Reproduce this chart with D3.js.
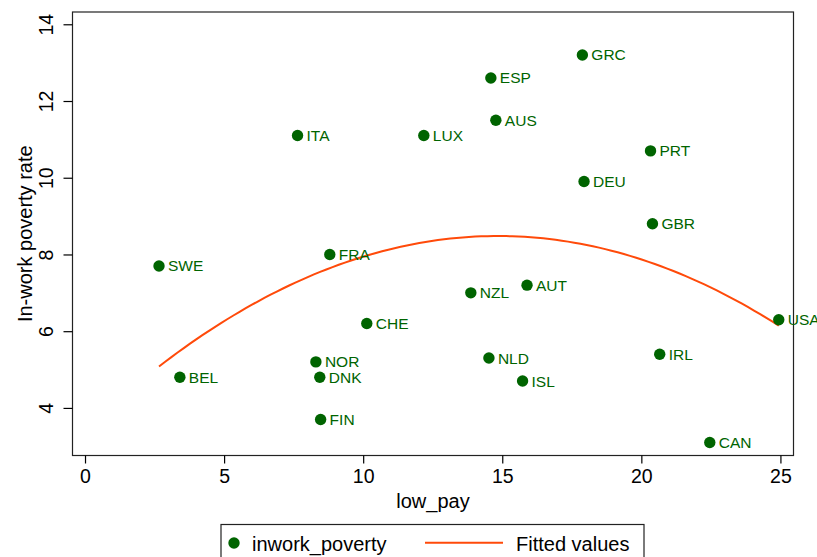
<!DOCTYPE html>
<html>
<head>
<meta charset="utf-8">
<script src="https://cdn.jsdelivr.net/npm/d3@7"></script>
<style>
  html, body { margin: 0; padding: 0; background: #fff; }
  svg { display: block; font-family: "Liberation Sans", Arial, sans-serif; }
</style>
</head>
<body>
<svg id="chart" width="817" height="557"></svg>
<script>
// Country codes, share of low-paid workers and in-work poverty rate
const countries = ["SWE","BEL","ITA","LUX","GRC","ESP","AUS","NOR","DNK","FIN","NZL",
                   "AUT","NLD","ISL","PRT","DEU","GBR","IRL","USA","CAN","FRA","CHE"];
const lowPay = [2.66, 3.41, 7.64, 12.18, 17.88, 14.59, 14.77, 8.30, 8.44, 8.47, 13.87,
                15.89, 14.52, 15.73, 20.33, 17.94, 20.40, 20.66, 24.94, 22.46, 8.80, 10.13];
const inworkPoverty = [7.7, 4.8, 11.1, 11.1, 13.2, 12.6, 11.5, 5.2, 4.8, 3.7, 7.0,
                       7.2, 5.3, 4.7, 10.7, 9.9, 8.8, 5.4, 6.3, 3.1, 8.0, 6.2];
const xTicks = [0, 5, 10, 15, 20, 25];
const yTicks = [4, 6, 8, 10, 12, 14];

const GREEN = "#006400";
const ORANGE = "#ff4a0a";

const svg = d3.select("#chart");
const plot = { left: 72.5, top: 12, right: 793.5, bottom: 455.5 };

const x = d3.scaleLinear().domain([-0.45, 25.47]).range([plot.left, plot.right]);
const y = d3.scaleLinear().domain([2.76, 14.32]).range([plot.bottom, plot.top]);

// Quadratic least-squares fit of in-work poverty on low pay
function quadFit(xs, ys) {
  const n = xs.length;
  let s = [0,0,0,0,0], t = [0,0,0];
  for (let i = 0; i < n; i++) {
    const xv = xs[i], yv = ys[i];
    for (let k = 0; k < 5; k++) s[k] += Math.pow(xv, k);
    for (let k = 0; k < 3; k++) t[k] += yv * Math.pow(xv, k);
  }
  const A = [[s[0], s[1], s[2], t[0]],
             [s[1], s[2], s[3], t[1]],
             [s[2], s[3], s[4], t[2]]];
  for (let c = 0; c < 3; c++) {
    let p = c;
    for (let r = c + 1; r < 3; r++) if (Math.abs(A[r][c]) > Math.abs(A[p][c])) p = r;
    [A[c], A[p]] = [A[p], A[c]];
    for (let r = 0; r < 3; r++) {
      if (r === c) continue;
      const f = A[r][c] / A[c][c];
      for (let k = c; k < 4; k++) A[r][k] -= f * A[c][k];
    }
  }
  return [A[0][3] / A[0][0], A[1][3] / A[1][1], A[2][3] / A[2][2]];
}
const coef = quadFit(lowPay, inworkPoverty);
const [xMin, xMax] = d3.extent(lowPay);
const fitted = d3.range(0, 101).map(i => {
  const xv = xMin + (xMax - xMin) * i / 100;
  return [xv, coef[0] + coef[1] * xv + coef[2] * xv * xv];
});

// Plot frame
svg.append("rect")
  .attr("x", plot.left).attr("y", plot.top)
  .attr("width", plot.right - plot.left).attr("height", plot.bottom - plot.top)
  .attr("fill", "none").attr("stroke", "#222").attr("stroke-width", 1.2);

// Axes
const xAxis = svg.append("g")
  .attr("transform", `translate(0,${plot.bottom})`)
  .call(d3.axisBottom(x).tickValues(xTicks).tickSize(8).tickPadding(6).tickFormat(d3.format("d")));
xAxis.select(".domain").remove();
xAxis.selectAll("line").attr("stroke", "#000").attr("stroke-width", 1.2);
xAxis.selectAll("text").attr("font-size", 19.5).attr("fill", "#000")
  .attr("font-family", "Liberation Sans, Arial, sans-serif");

const yAxis = svg.append("g")
  .attr("transform", `translate(${plot.left},0)`)
  .call(d3.axisLeft(y).tickValues(yTicks).tickSize(9).tickPadding(0).tickFormat(d3.format("d")));
yAxis.select(".domain").remove();
yAxis.selectAll("line").attr("stroke", "#000").attr("stroke-width", 1.2);
yAxis.selectAll("text")
  .attr("font-size", 19.5).attr("fill", "#000")
  .attr("font-family", "Liberation Sans, Arial, sans-serif")
  .attr("x", null).attr("dy", null)
  .attr("text-anchor", "middle")
  .attr("transform", "translate(-19.5,0) rotate(-90)");

// Axis titles
svg.append("text")
  .attr("x", (plot.left + plot.right) / 2).attr("y", 508)
  .attr("text-anchor", "middle").attr("font-size", 20).attr("fill", "#000")
  .text("low_pay");
svg.append("text")
  .attr("transform", `translate(32,${(plot.top + plot.bottom) / 2}) rotate(-90)`)
  .attr("text-anchor", "middle").attr("font-size", 20).attr("fill", "#000")
  .text("In-work poverty rate");

// Fitted curve
svg.append("path")
  .datum(fitted)
  .attr("fill", "none").attr("stroke", ORANGE).attr("stroke-width", 2)
  .attr("d", d3.line().x(d => x(d[0])).y(d => y(d[1])));

// Country points and labels
const pts = svg.append("g").selectAll("g")
  .data(countries.map((c, i) => ({ c, xv: lowPay[i], yv: inworkPoverty[i] })))
  .join("g");
pts.append("circle")
  .attr("cx", d => x(d.xv)).attr("cy", d => y(d.yv)).attr("r", 5.7)
  .attr("fill", GREEN);
pts.append("text")
  .attr("x", d => x(d.xv) + 9).attr("y", d => y(d.yv) + 5.5)
  .attr("font-size", 15.5).attr("fill", GREEN)
  .text(d => d.c);

// Legend
const lg = svg.append("g");
lg.append("rect")
  .attr("x", 221).attr("y", 524.5).attr("width", 423).attr("height", 50)
  .attr("fill", "#fff").attr("stroke", "#222").attr("stroke-width", 1.2);
lg.append("circle").attr("cx", 234).attr("cy", 543).attr("r", 5.7).attr("fill", GREEN);
lg.append("text").attr("x", 252).attr("y", 550.5).attr("font-size", 20).attr("fill", "#000")
  .text("inwork_poverty");
lg.append("line").attr("x1", 425).attr("x2", 503).attr("y1", 542.8).attr("y2", 542.8)
  .attr("stroke", ORANGE).attr("stroke-width", 2);
lg.append("text").attr("x", 516).attr("y", 550.5).attr("font-size", 20).attr("fill", "#000")
  .text("Fitted values");
</script>
</body>
</html>
